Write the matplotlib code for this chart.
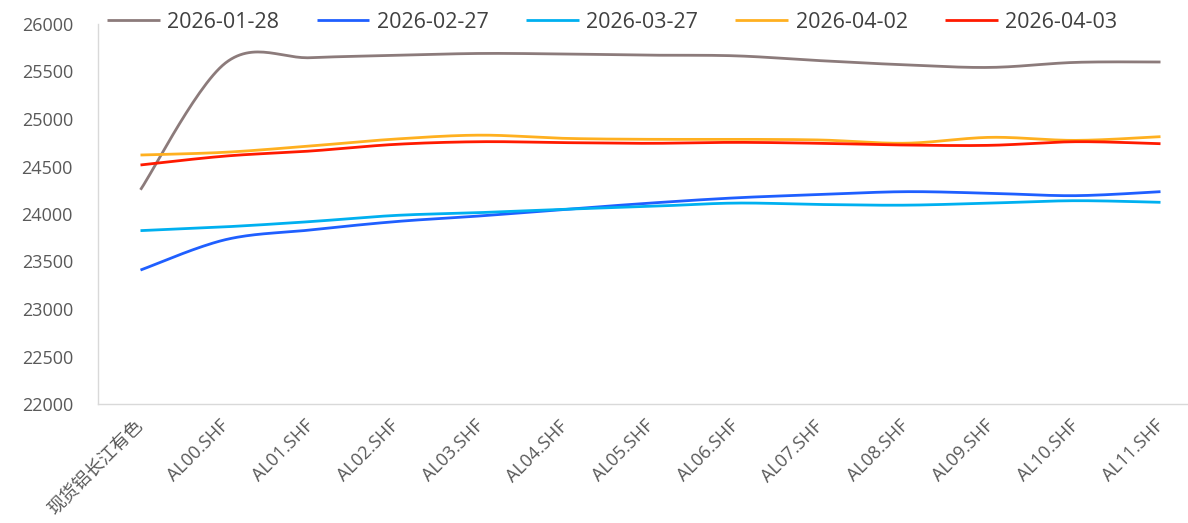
import numpy as np
import matplotlib
matplotlib.use("Agg")
import matplotlib.pyplot as plt

plt.rcParams['font.family'] = ['Open Sans', 'Noto Sans CJK SC', 'DejaVu Sans']

categories = ["现货铝长江有色", "AL00.SHF", "AL01.SHF", "AL02.SHF", "AL03.SHF", "AL04.SHF",
              "AL05.SHF", "AL06.SHF", "AL07.SHF", "AL08.SHF", "AL09.SHF", "AL10.SHF", "AL11.SHF"]

s_0128 = [24255, 25590, 25645, 25670, 25690, 25684, 25672, 25665, 25614, 25570, 25543, 25596, 25600]
s_0227 = [23410, 23730, 23832, 23920, 23980, 24049, 24115, 24170, 24205, 24235, 24218, 24193, 24235]
s_0327 = [23825, 23865, 23920, 23985, 24015, 24050, 24080, 24115, 24100, 24093, 24115, 24140, 24123]
s_0402 = [24621, 24650, 24716, 24789, 24830, 24796, 24786, 24786, 24779, 24745, 24807, 24775, 24814]
s_0403 = [24516, 24610, 24663, 24733, 24761, 24751, 24744, 24754, 24744, 24726, 24723, 24761, 24740]

labels = ["2026-01-28", "2026-02-27", "2026-03-27", "2026-04-02", "2026-04-03"]
colors = ["#8c7b7b", "#1f5fff", "#00b0f0", "#ffb020", "#ff1a00"]


def smooth(y, n=30):
    # Excel-like smooth line: Catmull-Rom style bezier between points
    y = np.asarray(y, dtype=float)
    x = np.arange(len(y), dtype=float)
    pts = np.column_stack([x, y])
    out = [pts[0]]
    for i in range(len(pts) - 1):
        p0 = pts[i - 1] if i > 0 else pts[i]
        p1 = pts[i]
        p2 = pts[i + 1]
        p3 = pts[i + 2] if i + 2 < len(pts) else pts[i + 1]
        c1 = p1 + (p2 - p0) / 6.0
        c2 = p2 - (p3 - p1) / 6.0
        t = np.linspace(0, 1, n)[1:, None]
        seg = ((1 - t) ** 3) * p1 + 3 * ((1 - t) ** 2) * t * c1 + 3 * (1 - t) * t ** 2 * c2 + t ** 3 * p2
        out.extend(seg)
    out = np.array(out)
    return out[:, 0], out[:, 1]


fig = plt.figure(figsize=(11.88, 5.23), dpi=100)
W, H = 1188, 523
left, right, top, bottom = 98, 98 + 13 * 85, 24, 404
ax = fig.add_axes([left / W, 1 - bottom / H, (right - left) / W, (bottom - top) / H])

for ys, lab, col in zip([s_0128, s_0227, s_0327, s_0402, s_0403], labels, colors):
    xs, yy = smooth(ys)
    ax.plot(xs, yy, color=col, linewidth=2.0, label=lab, solid_capstyle='butt')

ax.set_xlim(-0.5, 12.5)
ax.set_ylim(22000, 26000)
ax.set_yticks(np.arange(22000, 26001, 500))
ax.set_xticks(range(len(categories)))
ax.set_xticklabels(categories, rotation=45, ha='right', va='center', rotation_mode='anchor')

for s in ['top', 'right']:
    ax.spines[s].set_visible(False)
for s in ['left', 'bottom']:
    ax.spines[s].set_color('#d9d9d9')
    ax.spines[s].set_linewidth(1.0)
ax.tick_params(axis='both', length=0, colors='#595959', labelsize=13)
ax.tick_params(axis='y', pad=18)
ax.tick_params(axis='x', pad=14)

leg = fig.legend(loc='center left', bbox_to_anchor=(107 / W, 1 - 22 / H), ncol=5, frameon=False,
                 fontsize=15.5, handlelength=2.45, handletextpad=0.35, columnspacing=1.73,
                 borderaxespad=0, borderpad=0)
for t in leg.get_texts():
    t.set_color('#404040')

fig.savefig("out.png", dpi=100)
